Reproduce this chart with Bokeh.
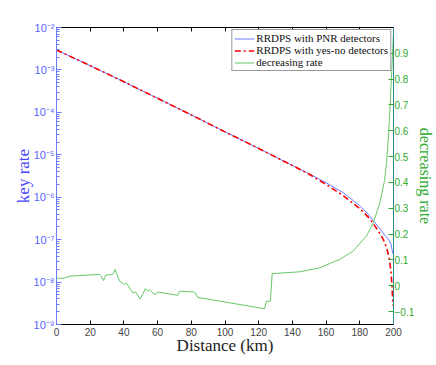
from bokeh.plotting import figure
from bokeh.models import (LinearAxis, Range1d, FixedTicker, CustomJSTickFormatter,
                          Legend, LegendItem, LinearScale, CustomLabelingPolicy)
from bokeh.embed import file_html
from bokeh.resources import INLINE

# ---------------- data ----------------
pnr_km = [0, 20, 40, 60, 80, 100, 120, 140, 150, 160, 170, 180, 185, 188, 192,
          195, 197.5, 198.5, 199.2, 199.5]
pnr_rate = [2.95e-3, 1.26e-3, 5.25e-4, 2.14e-4, 8.7e-5, 3.47e-5, 1.41e-5, 5.6e-6,
            3.55e-6, 2.19e-6, 1.29e-6, 6.3e-7, 4.0e-7, 2.8e-7, 1.78e-7, 1.26e-7,
            9.5e-8, 7.9e-8, 5.6e-8, 4.7e-8]

yn_km = [0, 20, 40, 60, 80, 100, 120, 140, 150, 160, 170, 180, 185, 188, 192,
         194, 196, 197.5, 198.5, 199.2, 199.6]
yn_rate = [2.95e-3, 1.26e-3, 5.25e-4, 2.14e-4, 8.7e-5, 3.47e-5, 1.41e-5, 5.6e-6,
           3.47e-6, 2.0e-6, 1.1e-6, 5.4e-7, 3.4e-7, 2.4e-7, 1.38e-7, 1.0e-7,
           6.3e-8, 3.5e-8, 1.8e-8, 7.1e-9, 2.8e-9]

dec_km = [0, 3.8, 7.7, 25.5, 26.5, 27.9, 29.1, 33.4, 34.8, 37.4, 40.4, 41.4, 45.3,
          46.9, 49.7, 52.8, 54.2, 55.2, 57.2, 58.8, 60.1, 72, 73, 81.9, 83.9,
          123.5, 124.5, 126.9, 128, 144.2, 156, 168, 176, 184, 188, 191.7, 194.7,
          196, 197, 198, 199, 200]
dec_rate = [0.030, 0.028, 0.037, 0.044, 0.037, 0.020, 0.041, 0.044, 0.063, 0.018,
            0.005, 0.011, -0.028, -0.024, -0.051, -0.011, -0.021, -0.015, -0.028,
            -0.034, -0.024, -0.037, -0.021, -0.024, -0.045, -0.089, -0.060, -0.060,
            0.047, 0.054, 0.069, 0.102, 0.134, 0.193, 0.244, 0.316, 0.407, 0.484,
            0.58, 0.70, 0.84, 0.98]

x_ticks = [0, 20, 40, 60, 80, 100, 120, 140, 160, 180, 200]
left_ticks = [1e-9, 1e-8, 1e-7, 1e-6, 1e-5, 1e-4, 1e-3, 1e-2]
right_ticks = [-0.1, 0, 0.1, 0.2, 0.3, 0.4, 0.5, 0.6, 0.7, 0.8, 0.9]
legend_labels = ["RRDPS with PNR detectors", "RRDPS with yes-no detectors",
                 "decreasing rate"]

# ---------------- colours / fonts ----------------
BLUE = "#6f7bff"
BLUE_TXT = "#5a64ff"
RED = "#ff0000"
GREEN = "#66c866"
GREEN_TXT = "#2eaa2e"
TEAL = "#2e8b8b"
SANS = "Liberation Sans"
SERIF = "Liberation Serif"

p = figure(frame_width=337, frame_height=297, x_range=(0, 200),
           y_range=(1e-9, 1e-2), y_axis_type="log",
           output_backend="svg", toolbar_location=None,
           min_border_left=56, min_border_top=27, min_border_right=0,
           min_border_bottom=0)
p.extra_y_ranges = {"dec": Range1d(-0.15, 1.0)}
p.extra_y_scales = {"dec": LinearScale()}
p.grid.visible = False
p.outline_line_color = "black"
p.background_fill_color = "white"
p.border_fill_color = "white"

r_pnr = p.line(pnr_km, pnr_rate, line_color=BLUE, line_width=1)
r_yn = p.line(yn_km, yn_rate, line_color=RED, line_width=1.6, line_dash="6 3 2 3")
r_dec = p.line(dec_km, dec_rate, line_color=GREEN, line_width=1, y_range_name="dec")

# x axis
xa = p.xaxis[0]
xa.ticker = FixedTicker(ticks=x_ticks, minor_ticks=[])
xa.axis_label = "Distance (km)"
xa.axis_label_text_font = SERIF
xa.axis_label_text_font_size = "17px"
xa.axis_label_text_font_style = "normal"
xa.axis_label_text_color = "#222222"
xa.axis_label_standoff = -3
xa.major_label_text_font = SANS
xa.major_label_text_font_size = "10px"
xa.major_label_standoff = 3
xa.major_tick_in = 4
xa.major_tick_out = 0
xa.axis_line_color = "black"
xa.major_tick_line_color = "black"

# top axis (ticks only, no labels)
ta = LinearAxis(ticker=FixedTicker(ticks=x_ticks, minor_ticks=[]),
                major_label_policy=CustomLabelingPolicy(code="""
for (const i of Array.from(indices)) indices.unset(i)
return indices
"""),
                major_label_standoff=0,
                major_tick_in=4, major_tick_out=0, axis_line_color="black")
p.add_layout(ta, "above")

# left log axis
minor = [m * 10.0 ** e for e in range(-9, -2) for m in range(2, 10)]
ya = p.yaxis[0]
ya.ticker = FixedTicker(ticks=left_ticks, minor_ticks=minor)
ya.formatter = CustomJSTickFormatter(code="""
const sup = {'-':'\u207b','0':'\u2070','1':'\u00b9','2':'\u00b2','3':'\u00b3',
             '4':'\u2074','5':'\u2075','6':'\u2076','7':'\u2077','8':'\u2078','9':'\u2079'};
const e = Math.round(Math.log10(tick));
return '10' + String(e).split('').map(c => sup[c]).join('');
""")
ya.axis_label = "key rate"
ya.axis_label_text_font = SERIF
ya.axis_label_text_font_size = "17px"
ya.axis_label_text_font_style = "normal"
ya.axis_label_text_color = "#4646ff"
ya.axis_label_standoff = -2
ya.major_label_text_font = SANS
ya.major_label_text_font_size = "11px"
ya.major_label_text_color = BLUE_TXT
ya.major_label_standoff = 2
ya.axis_line_color = BLUE
ya.major_tick_line_color = BLUE
ya.minor_tick_line_color = BLUE
ya.major_tick_in = 5
ya.major_tick_out = 0
ya.minor_tick_in = 3
ya.minor_tick_out = 0

# right linear axis
ra = LinearAxis(y_range_name="dec",
                ticker=FixedTicker(ticks=right_ticks, minor_ticks=[]))
ra.axis_label = "decreasing rate"
ra.axis_label_text_font = SERIF
ra.axis_label_text_font_size = "16px"
ra.axis_label_text_font_style = "normal"
ra.axis_label_text_color = GREEN_TXT
ra.axis_label_standoff = 0
ra.major_label_text_font = SANS
ra.major_label_text_font_size = "10px"
ra.major_label_text_color = GREEN_TXT
ra.major_label_standoff = 1
ra.axis_line_color = TEAL
ra.major_tick_line_color = GREEN_TXT
ra.major_tick_in = 5
ra.major_tick_out = 0
p.add_layout(ra, "right")

legend = Legend(items=[LegendItem(label=legend_labels[0], renderers=[r_pnr]),
                       LegendItem(label=legend_labels[1], renderers=[r_yn]),
                       LegendItem(label=legend_labels[2], renderers=[r_dec])],
                location="top_right")
legend.border_line_color = "#333333"
legend.border_line_width = 1
legend.label_text_font = SERIF
legend.label_text_font_size = "11px"
legend.label_text_color = "#111111"
legend.glyph_width = 20
legend.glyph_height = 11
legend.label_height = 11
legend.label_standoff = 2
legend.spacing = 0
legend.padding = 2
legend.margin = 2
p.add_layout(legend)

open("out.html", "w").write(file_html(p, INLINE))
